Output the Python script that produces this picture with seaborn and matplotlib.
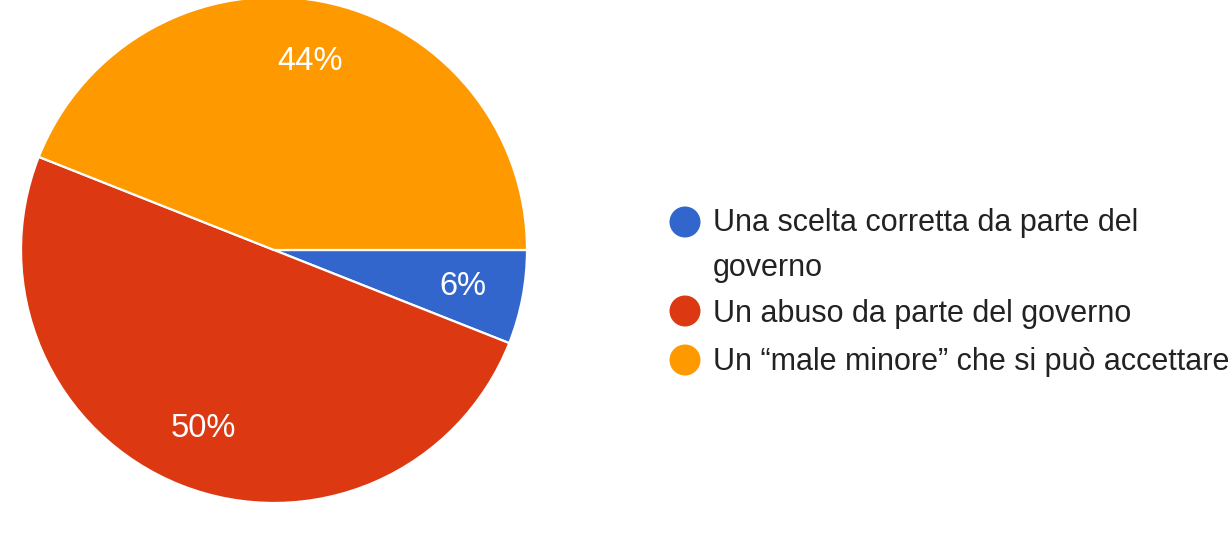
import matplotlib
matplotlib.use("Agg")
import matplotlib.pyplot as plt
import seaborn as sns

categories = ["Una scelta corretta da parte del governo",
              "Un abuso da parte del governo",
              "Un \u201cmale minore\u201d che si pu\u00f2 accettare"]
legend_lines = [["Una scelta corretta da parte del", "governo"],
                ["Un abuso da parte del governo"],
                ["Un \u201cmale minore\u201d che si pu\u00f2 accettare"]]
values = [6, 50, 44]
colors = ["#3366CC", "#DC3912", "#FF9900"]

sns.set_theme(style="white")
plt.rcParams["font.family"] = ["Liberation Sans", "DejaVu Sans"]

W, H = 1231, 534
fig = plt.figure(figsize=(W / 100, H / 100), dpi=100)
fig.patch.set_facecolor("white")

# pie axes: centre (274, 250) px, radius 253 px
cx, cy, r = 274, 250, 253
ax = fig.add_axes([(cx - r) / W, (H - cy - r) / H, 2 * r / W, 2 * r / H])
wedges, texts, autotexts = ax.pie(
    values, colors=colors, startangle=0, counterclock=False,
    autopct="%1.0f%%", pctdistance=0.76, radius=1.0,
    wedgeprops=dict(edgecolor="white", linewidth=1.6),
    textprops=dict(color="white", fontsize=23.5))
ax.set_xlim(-1, 1)
ax.set_ylim(-1, 1)
ax.set_aspect("equal")
ax.axis("off")

# legend drawn in pixel coordinates
lax = fig.add_axes([0, 0, 1, 1])
lax.set_xlim(0, W)
lax.set_ylim(H, 0)
lax.axis("off")
marker_y = [222, 311, 360]
text_base = [231, 322, 370]
line_step = 45
for lines, col, my, ty in zip(legend_lines, colors, marker_y, text_base):
    lax.scatter([685], [my], s=(31 * 0.72) ** 2, color=col, edgecolors="none")
    for i, ln in enumerate(lines):
        lax.text(713, ty + i * line_step, ln, fontsize=22, color="#222222",
                 va="baseline", ha="left")

fig.savefig("out.png", dpi=100, facecolor="white")
